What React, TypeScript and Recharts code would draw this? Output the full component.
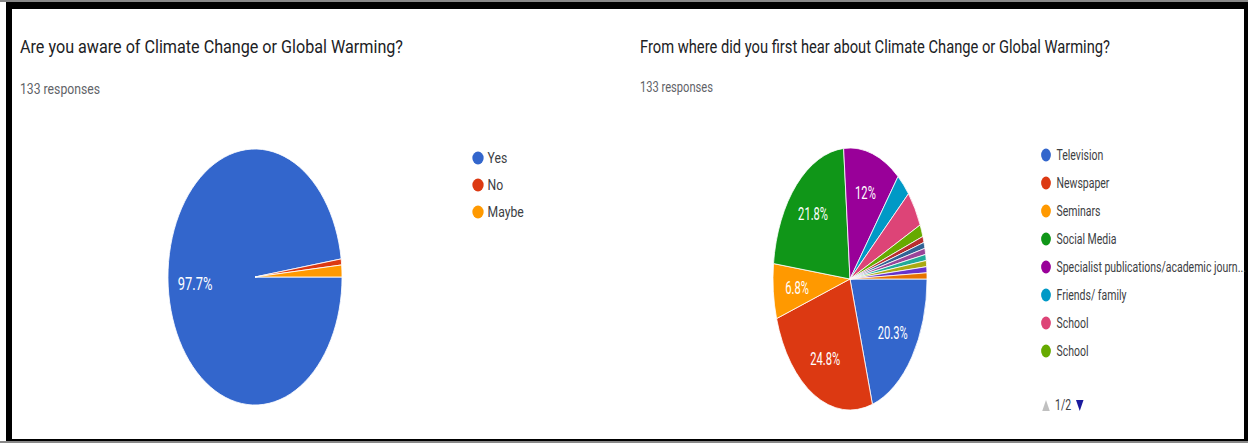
import { PieChart, Pie, Cell } from 'recharts';

// Google Forms default palette
const PALETTE = ['#3366cc', '#dc3912', '#ff9900', '#109618', '#990099', '#0099c6', '#dd4477', '#66aa00', '#b82e2e', '#316395', '#994499', '#22aa99', '#aaaa11', '#6633cc', '#e67300'];

const AWARE_TITLE = 'Are you aware of Climate Change or Global Warming?';
const AWARE_NAMES = ['Yes', 'No', 'Maybe'];
const AWARE_COUNTS = [130, 1, 2];

const SOURCE_TITLE = 'From where did you first hear about Climate Change or Global Warming?';
const SOURCE_NAMES = [
  'Television', 'Newspaper', 'Seminars', 'Social Media',
  'Specialist publications/academic journals', 'Friends/ family', 'School', 'School',
  'Internet', 'Books', 'College', 'Teachers', 'Documentaries', 'Magazines', 'Radio',
];
const SOURCE_COUNTS = [27, 33, 9, 29, 16, 4, 6, 2, 1, 1, 1, 1, 1, 1, 1];
const LEGEND_PAGE_SIZE = 8;
const RESPONSES = '133 responses';

const RAD = Math.PI / 180;
const FONT = 'Roboto, Arial, sans-serif';

const renderLabel = (props: any) => {
  const { cx, cy, midAngle, outerRadius, percent } = props;
  if (percent < 0.05) return null;
  const r = outerRadius * 0.69;
  const x = cx + r * Math.cos(-midAngle * RAD);
  const y = cy + r * Math.sin(-midAngle * RAD);
  const txt = (percent * 100).toFixed(1).replace(/\.0$/, '') + '%';
  return (
    <text x={x} y={y} fill="#fff" fontSize={19} fontFamily={FONT} textAnchor="middle" dominantBaseline="central">
      {txt}
    </text>
  );
};

function SquashedPie({ names, counts, left, top, radius, squash }: any) {
  const data = names.map((name: string, i: number) => ({ name, value: counts[i] }));
  const size = 300;
  return (
    <div style={{ position: 'absolute', left, top, width: size, height: size, transform: `scaleX(${squash})`, transformOrigin: `${size / 2}px ${size / 2}px` }}>
      <PieChart width={size} height={size} margin={{ top: 0, right: 0, bottom: 0, left: 0 }}>
        <Pie
          data={data}
          dataKey="value"
          cx="50%"
          cy="50%"
          outerRadius={radius}
          startAngle={0}
          endAngle={-360}
          stroke="#fff"
          strokeWidth={1}
          label={renderLabel}
          labelLine={false}
          isAnimationActive={false}
        >
          {data.map((_: any, i: number) => (
            <Cell key={`cell-${i}`} fill={PALETTE[i % PALETTE.length]} />
          ))}
        </Pie>
      </PieChart>
    </div>
  );
}

const shorten = (s: string) => (s.length > 38 ? s.slice(0, 38) + '...' : s);

export default function App() {
  const sourceLegend = SOURCE_NAMES.slice(0, LEGEND_PAGE_SIZE);
  const pages = Math.ceil(SOURCE_NAMES.length / LEGEND_PAGE_SIZE);

  return (
    <div style={{ position: 'absolute', left: 0, top: 0, width: 1248, height: 443, background: '#fff', overflow: 'hidden', fontFamily: FONT }}>
      {/* frame */}
      <div style={{ position: 'absolute', left: 0, top: 0, width: 1248, height: 2, background: '#888' }} />
      <div style={{ position: 'absolute', left: 0, top: 441, width: 1248, height: 2, background: '#888' }} />
      <div style={{ position: 'absolute', left: 6, top: 2, width: 1242, height: 439, border: '0 solid #000', borderWidth: '7px 4px 2px 6px', boxSizing: 'border-box' }} />

      <svg width={1248} height={443} style={{ position: 'absolute', left: 0, top: 0 }}>
        {/* left panel text */}
        <text x={20} y={53} fontSize={18} fill="#202124" textLength={383} lengthAdjust="spacingAndGlyphs">{AWARE_TITLE}</text>
        <text x={20} y={94} fontSize={14} fill="#5f6368" textLength={80} lengthAdjust="spacingAndGlyphs">{RESPONSES}</text>
        <g transform="translate(478,0) scale(0.87,1)">
          {AWARE_NAMES.map((name, i) => (
            <g key={name}>
              <circle cx={0} cy={158 + i * 27} r={6.5} fill={PALETTE[i]} />
              <text x={11} y={163 + i * 27} fontSize={14} fill="#3c4043">{name}</text>
            </g>
          ))}
        </g>

        {/* right panel text */}
        <text x={640} y={53} fontSize={18} fill="#202124" textLength={470} lengthAdjust="spacingAndGlyphs">{SOURCE_TITLE}</text>
        <text x={640} y={92} fontSize={14} fill="#5f6368" textLength={73} lengthAdjust="spacingAndGlyphs">{RESPONSES}</text>
        <g transform="translate(1046,0) scale(0.75,1)">
          {sourceLegend.map((name, i) => (
            <g key={`${name}-${i}`}>
              <circle cx={0} cy={155 + i * 28} r={6.5} fill={PALETTE[i]} />
              <text x={14} y={160 + i * 28} fontSize={14} fill="#3c4043">{shorten(name)}</text>
            </g>
          ))}
          <path d="M -5 411 L 0 400 L 5 411 Z" fill="#c0c0c0" />
          <text x={12} y={410} fontSize={14} fill="#3c4043">{`1/${pages}`}</text>
          <path d="M 40 400 L 50 400 L 45 411 Z" fill="#1a1a9e" />
        </g>
      </svg>

      <SquashedPie names={AWARE_NAMES} counts={AWARE_COUNTS} left={105} top={127} radius={128} squash={0.68} />
      <SquashedPie names={SOURCE_NAMES} counts={SOURCE_COUNTS} left={700} top={129} radius={131} squash={0.588} />
    </div>
  );
}
